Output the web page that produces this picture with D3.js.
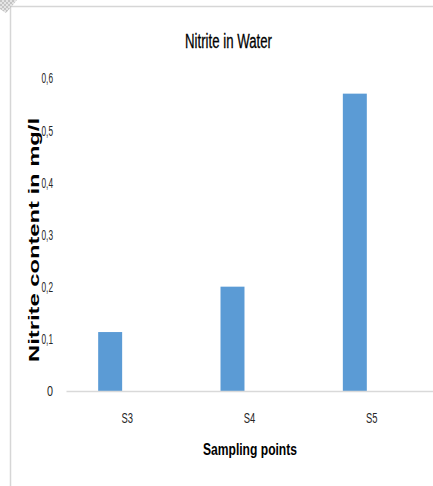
<!DOCTYPE html>
<html>
<head>
<meta charset="utf-8">
<script src="https://cdn.jsdelivr.net/npm/d3@7/dist/d3.min.js"></script>
<style>
  html, body { margin: 0; padding: 0; background: #fff; }
  svg { display: block; }
  text { font-family: "Liberation Sans", Arial, sans-serif; }
</style>
</head>
<body>
<div id="chart"></div>
<script>
// Nitrite measured at each sampling point (mg/l)
const categories = ["S3", "S4", "S5"];
const nitrite = [0.113, 0.2, 0.57];
const yTicks = [0, 0.1, 0.2, 0.3, 0.4, 0.5, 0.6];
const yTickLabels = ["0", "0,1", "0,2", "0,3", "0,4", "0,5", "0,6"];

const W = 433, H = 486;
const svg = d3.select("#chart").append("svg")
  .attr("width", W).attr("height", H);

// sheet frame lines and corner marker
svg.append("line").attr("x1", 10).attr("x2", W).attr("y1", 6.5).attr("y2", 6.5)
  .attr("stroke", "#d6d6d6").attr("stroke-width", 1.5);
svg.append("line").attr("x1", 10.5).attr("x2", 10.5).attr("y1", 6).attr("y2", H)
  .attr("stroke", "#d6d6d6").attr("stroke-width", 1.5);
const defs = svg.append("defs");
const pat = defs.append("pattern").attr("id", "checker")
  .attr("width", 4).attr("height", 4).attr("patternUnits", "userSpaceOnUse");
pat.append("rect").attr("width", 4).attr("height", 4).attr("fill", "#e4e4e4");
pat.append("rect").attr("width", 2).attr("height", 2).attr("fill", "#c4c4c4");
pat.append("rect").attr("x", 2).attr("y", 2).attr("width", 2).attr("height", 2).attr("fill", "#c4c4c4");
svg.append("path").attr("d", "M0,0 L17,0 L6,13 L0,9 Z").attr("fill", "url(#checker)");

// scales
const x = d3.scaleBand().domain(categories).range([66, W]);
const y = d3.scaleLinear().domain([0, 0.6]).range([391, 78]);
const barW = x.step() * 0.196;
const barShift = x.step() * 0.139;

// bars
svg.append("g").selectAll("rect")
  .data(categories.map((c, i) => ({ c, v: nitrite[i] })))
  .join("rect")
  .attr("x", d => x(d.c) + x.bandwidth() / 2 - barShift - barW / 2)
  .attr("width", barW)
  .attr("y", d => y(d.v))
  .attr("height", d => y(0) - y(d.v))
  .attr("fill", "#5b9bd5");

// category axis
const xAxis = svg.append("g").attr("transform", `translate(0,${y(0)})`)
  .call(d3.axisBottom(x).tickSize(0).tickPadding(21));
xAxis.select(".domain").attr("stroke", "#d9d9d9").attr("stroke-width", 1.5);
xAxis.selectAll("text")
  .attr("font-size", 15).attr("fill", "#262626")
  .attr("font-family", "Liberation Sans, Arial, sans-serif")
  .attr("textLength", 11.5).attr("lengthAdjust", "spacingAndGlyphs");

// value axis (labels only)
const yAxis = svg.append("g").attr("transform", "translate(53,0)")
  .call(d3.axisLeft(y).tickValues(yTicks).tickSize(0).tickPadding(0)
    .tickFormat((d, i) => yTickLabels[i]));
yAxis.select(".domain").remove();
yAxis.selectAll("text")
  .attr("font-size", 15.5).attr("fill", "#262626")
  .attr("font-family", "Liberation Sans, Arial, sans-serif")
  .attr("textLength", (d, i) => yTickLabels[i].length > 1 ? 11.5 : 6)
  .attr("lengthAdjust", "spacingAndGlyphs");

// title
svg.append("text").attr("x", 228.5).attr("y", 47.5).attr("text-anchor", "middle")
  .attr("font-size", 20).attr("fill", "#000")
  .attr("stroke", "#000").attr("stroke-width", 0.3)
  .attr("textLength", 87).attr("lengthAdjust", "spacingAndGlyphs")
  .text("Nitrite in Water");

// axis titles
svg.append("text").attr("x", 250).attr("y", 455).attr("text-anchor", "middle")
  .attr("font-size", 17).attr("font-weight", "bold").attr("fill", "#000")
  .attr("textLength", 94).attr("lengthAdjust", "spacingAndGlyphs")
  .text("Sampling points");

svg.append("text")
  .attr("transform", "translate(39,240) rotate(-90)")
  .attr("text-anchor", "middle")
  .attr("font-size", 15).attr("font-weight", "bold").attr("fill", "#000")
  .attr("textLength", 244).attr("lengthAdjust", "spacingAndGlyphs")
  .text("Nitrite content in mg/l");
</script>
</body>
</html>
